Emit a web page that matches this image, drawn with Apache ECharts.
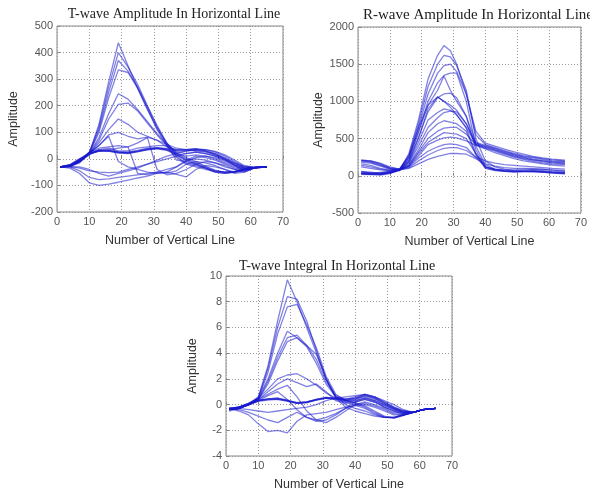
<!DOCTYPE html>
<html><head><meta charset="utf-8">
<script src="https://cdn.jsdelivr.net/npm/echarts@6/dist/echarts.min.js"></script>
<style>html,body{margin:0;padding:0;background:#fff}#c{width:590px;height:492px}</style>
</head><body><div id="c"></div>
<script>
// ---- Plot 1: T-wave amplitude ----
const X1 = [1,4,7,10,13,16,19,22,25,28,31,34,37,40,43,46,49,52,55,58,61,65];
const T1 = [
 [-30,-28,-15,20,130,290,437,350,265,190,110,50,5,-20,-30,-40,-48,-50,-48,-40,-33,-30],
 [-30,-27,-12,25,120,270,400,345,280,200,125,60,10,-15,-25,-35,-45,-50,-47,-40,-33,-30],
 [-30,-26,-10,22,110,250,370,330,270,195,120,55,15,-5,0,-5,-15,-30,-40,-40,-33,-30],
 [-30,-25,-8,20,100,230,335,325,265,185,115,60,20,10,15,10,0,-15,-30,-38,-33,-30],
 [-30,-25,-5,20,80,170,245,225,185,140,95,55,25,20,25,20,10,-5,-20,-35,-33,-30],
 [-30,-24,-5,18,70,150,205,210,180,135,90,50,30,30,35,30,20,5,-15,-30,-33,-30],
 [-30,-24,-3,18,60,110,150,130,100,85,70,45,35,35,38,35,28,15,-5,-25,-32,-30],
 [-30,-22,0,20,50,90,100,85,75,82,70,55,40,35,30,25,15,0,-15,-28,-32,-30],
 [-30,-22,0,22,50,85,-10,-30,-40,-50,-55,-50,-30,-10,5,10,5,-10,-25,-35,-32,-30],
 [-30,-25,-5,25,40,45,50,45,-55,-60,-50,-40,-30,-5,10,5,-5,-20,-35,-40,-33,-30],
 [-30,-25,-5,20,30,35,40,45,60,80,-40,-60,-55,-40,-20,-10,-15,-25,-40,-50,-35,-30],
 [-30,-28,-10,15,35,40,30,30,40,45,50,50,-5,-10,-20,-35,-50,-55,-50,-40,-33,-30],
 [-30,-28,-10,20,30,32,25,22,28,35,40,38,35,35,38,30,15,0,-20,-35,-32,-30],
 [-30,-27,-8,22,32,30,25,24,30,38,40,35,20,0,-15,-30,-45,-50,-48,-40,-33,-30],
 [-30,-28,-12,18,28,30,22,20,26,34,38,32,15,-5,-20,-35,-50,-55,-50,-42,-33,-30],
 [-30,-26,-6,24,34,33,27,25,32,40,42,38,30,30,35,35,25,10,-10,-30,-32,-30],
 [-30,-27,-8,20,30,28,24,22,28,36,40,34,22,5,-10,-28,-42,-52,-50,-42,-34,-30],
 [-30,-35,-55,-90,-100,-95,-88,-80,-72,-65,-55,-50,-58,-68,-40,-25,-30,-40,-50,-45,-35,-30],
 [-30,-30,-45,-70,-78,-75,-70,-65,-60,-55,-50,-55,-45,-20,-10,-15,-25,-40,-55,-50,-35,-30],
 [-30,-28,-35,-45,-50,-52,-50,-40,-30,-20,-10,0,10,20,25,20,10,-5,-25,-45,-35,-30],
 [-30,-30,-30,-40,-55,-65,-55,-45,-35,-20,-5,10,20,30,32,28,20,0,-25,-40,-33,-30]
];
// ---- Plot 2: R-wave amplitude ----
const X2 = [1,4,7,10,13,16,19,22,25,27,29,31,34,37,40,43,46,49,52,55,58,61,65];
const R2 = [
 [210,200,160,100,70,300,750,1300,1620,1750,1680,1500,1100,600,440,400,360,320,290,260,240,225,210],
 [30,20,10,30,80,280,700,1200,1500,1620,1600,1480,1150,500,200,120,90,70,60,55,50,45,40],
 [200,190,150,110,90,260,650,1100,1380,1480,1500,1400,1100,550,420,380,340,300,270,250,230,215,200],
 [40,30,20,40,80,240,600,1000,1250,1350,1380,1380,1000,400,150,90,70,60,60,60,50,40,30],
 [160,140,100,80,90,220,580,950,1150,1340,1150,1000,800,450,410,370,330,290,260,240,220,200,190],
 [30,25,15,35,70,200,520,860,1050,1100,1110,1050,800,350,120,80,65,55,55,60,50,35,25],
 [210,200,170,120,90,200,500,900,1060,1000,920,820,650,430,400,360,320,280,250,225,205,190,180],
 [60,50,30,40,80,180,450,750,850,900,880,820,640,300,110,75,60,50,55,60,55,45,35],
 [180,170,130,90,80,170,400,650,780,850,870,860,700,440,390,350,310,270,240,215,200,185,170],
 [20,15,20,45,80,150,350,580,700,740,720,700,600,280,100,70,60,55,60,65,60,50,40],
 [140,120,90,70,80,140,320,500,600,640,650,650,560,420,370,330,290,250,220,195,175,160,150],
 [50,40,35,50,80,130,300,450,530,580,570,560,500,300,120,85,70,65,70,75,70,60,50],
 [200,180,140,100,90,130,270,420,480,510,520,510,470,410,360,310,270,230,200,180,160,145,130],
 [30,25,40,60,80,120,240,330,390,420,430,420,380,250,120,90,80,80,85,90,85,75,60],
 [120,100,80,70,80,110,200,280,340,370,380,380,340,250,200,170,150,140,130,120,110,100,90],
 [30,30,45,60,80,100,160,220,260,280,300,300,290,230,160,130,110,100,100,95,90,80,70],
 [50,40,30,50,80,250,650,950,1060,1000,950,880,700,420,380,340,300,260,230,210,190,175,160]
];
// ---- Plot 3: T-wave integral ----
const X3 = [1,4,7,10,13,16,19,22,25,28,31,34,37,40,43,46,49,52,55,58,61,65];
const I3 = [
 [-0.3,-0.2,0,0.6,3,6.5,9.7,8,6,4,2,0.5,-0.2,-0.5,-0.7,-0.9,-1.0,-1.0,-0.8,-0.6,-0.4,-0.3],
 [-0.4,-0.2,0.1,0.5,2.8,6,8.4,8.2,6.5,4.2,2,0.6,0,-0.3,-0.5,-0.8,-1.0,-1.0,-0.8,-0.6,-0.4,-0.3],
 [-0.4,-0.2,0.1,0.5,2.5,5.5,7.6,7.8,6.2,4.4,2.2,0.8,0.3,0.3,0.5,0.3,-0.2,-0.5,-0.7,-0.6,-0.4,-0.3],
 [-0.3,-0.2,0,0.5,2,4,5.7,5.2,4.6,3.9,2,0.6,0.3,0.5,0.8,0.6,0.2,-0.2,-0.5,-0.6,-0.4,-0.3],
 [-0.5,-0.3,0,0.4,1.8,3.7,5.2,5.4,4.6,3.5,1.8,0.7,0.4,0.6,0.8,0.6,0.3,0,-0.4,-0.6,-0.4,-0.3],
 [-0.4,-0.3,0,0.4,1.6,3.4,4.9,5.2,4.5,3.2,1.6,0.6,0.3,0.4,0.7,0.5,0.1,-0.3,-0.6,-0.6,-0.4,-0.3],
 [-0.3,-0.2,0,0.5,1.2,2.0,2.3,2.4,2.0,1.5,0.9,0.5,0.2,0.3,0.5,0.3,0,-0.3,-0.5,-0.6,-0.4,-0.3],
 [-0.4,-0.3,0,0.4,1.0,1.6,2.0,1.7,1.4,1.6,1.0,0.3,0.1,0.2,0.4,0.2,-0.1,-0.4,-0.6,-0.6,-0.4,-0.3],
 [-0.3,-0.2,0.1,0.4,0.8,1.2,1.5,0.6,-0.5,-1.2,-1.4,-1.0,-0.5,0,0.2,0,-0.3,-0.6,-0.7,-0.6,-0.4,-0.3],
 [-0.4,-0.3,0,0.3,0.7,1.0,0.4,-0.4,-1.0,-1.3,-1.2,-0.8,-0.3,0,0.1,-0.1,-0.4,-0.7,-0.8,-0.6,-0.4,-0.3],
 [-0.3,-0.5,-0.8,-1.5,-2.1,-2.0,-2.2,-1.3,-0.8,-0.7,-0.6,-0.4,-0.2,-0.1,0,-0.2,-0.5,-0.8,-0.8,-0.6,-0.4,-0.3],
 [-0.3,-0.4,-0.6,-0.9,-1.2,-1.4,-1.0,-0.6,-1.0,-1.2,-1.0,-0.7,-0.3,0.2,0.4,0.2,-0.2,-0.5,-0.7,-0.6,-0.4,-0.3],
 [-0.4,-0.3,-0.4,-0.5,-0.6,-0.5,-0.4,-0.3,-0.2,0,0.3,0.5,0.6,0.7,0.8,0.6,0.2,-0.2,-0.5,-0.6,-0.4,-0.3],
 [-0.4,-0.3,0,0.3,0.4,0.45,0.3,0.1,0.15,0.35,0.5,0.45,0.3,0.1,-0.2,-0.6,-0.95,-1.0,-0.8,-0.6,-0.4,-0.3],
 [-0.4,-0.2,0.05,0.35,0.45,0.5,0.35,0.15,0.2,0.4,0.55,0.5,0.35,0.15,-0.1,-0.5,-0.9,-1.05,-0.85,-0.6,-0.4,-0.3],
 [-0.3,-0.25,0,0.3,0.4,0.4,0.25,0.1,0.15,0.4,0.55,0.5,0.45,0.5,0.7,0.5,0.1,-0.3,-0.6,-0.6,-0.4,-0.3],
 [-0.35,-0.3,0,0.25,0.35,0.4,0.3,0.1,0.2,0.35,0.5,0.45,0.4,0.45,0.6,0.4,0,-0.4,-0.6,-0.6,-0.4,-0.3],
 [-0.4,-0.3,-0.05,0.3,0.45,0.5,0.3,0.15,0.2,0.4,0.5,0.4,0.2,-0.05,-0.3,-0.7,-1.0,-1.05,-0.8,-0.6,-0.4,-0.3]
];
const TITLES = ['T-wave Amplitude In Horizontal Line','R-wave Amplitude In Horizontal Line','T-wave Integral In Horizontal Line'];
const XNAME = 'Number of Vertical Line', YNAME = 'Amplitude';
const YRANGES = [[-200,500,100],[-500,2000,500],[-4,10,2]];

const chart = echarts.init(document.getElementById('c'), null, {renderer:'canvas'});
const grids = [
 {left:57, top:26, width:226, height:186},
 {left:358, top:27, width:226, height:186},
 {left:226, top:276, width:226, height:186}
];
const lineColor = 'rgba(25,25,205,0.55)';
const xAxes = [], yAxes = [], series = [];
grids.forEach((g,i)=>{
  xAxes.push({gridIndex:i, type:'value', min:0, max:70, interval:10,
    name:XNAME, nameLocation:'middle', nameGap:22,
    nameTextStyle:{fontFamily:'Liberation Sans', fontSize:12.5, color:'#333'},
    axisLine:{show:false}, axisTick:{inside:true, length:3, lineStyle:{color:'#888'}},
    axisLabel:{fontFamily:'Liberation Sans', fontSize:11, color:'#555', margin:4, formatter:v=>String(v)},
    splitLine:{show:true, lineStyle:{type:[1,2], color:'#999', width:1}}});
  yAxes.push({gridIndex:i, type:'value', min:YRANGES[i][0], max:YRANGES[i][1], interval:YRANGES[i][2],
    name:YNAME, nameLocation:'middle', nameGap:[37,33,27][i],
    nameTextStyle:{fontFamily:'Liberation Sans', fontSize:12.5, color:'#333'},
    axisLine:{show:false}, axisTick:{inside:true, length:3, lineStyle:{color:'#888'}},
    axisLabel:{fontFamily:'Liberation Sans', fontSize:11, color:'#555', margin:4, formatter:v=>String(v)},
    splitLine:{show:true, lineStyle:{type:[1,2], color:'#999', width:1}}});
});
function addSeries(xs, sets, gi){
  sets.forEach(ys=>{
    series.push({type:'line', xAxisIndex:gi, yAxisIndex:gi, showSymbol:false, silent:true,
      data: xs.map((x,k)=>[x, ys[k]]),
      lineStyle:{color:lineColor, width:1.3}});
  });
}
addSeries(X1, T1, 0);
addSeries(X2, R2, 1);
addSeries(X3, I3, 2);
const titleStyle = {fontFamily:'Liberation Serif', fontSize:14, fontWeight:'normal', fill:'#222', textAlign:'center', textVerticalAlign:'middle'};
chart.setOption({
  animation:false,
  grid: grids.map(g=>Object.assign({show:true, borderColor:'#888', borderWidth:1, backgroundColor:'#fff'}, g)),
  xAxis:xAxes, yAxis:yAxes, series:series,
  graphic:[
    {type:'text', x:174, y:14, style:Object.assign({text:TITLES[0]}, titleStyle)},
    {type:'text', x:478, y:15, style:Object.assign({text:TITLES[1]}, titleStyle, {fontSize:15})},
    {type:'text', x:337, y:266, style:Object.assign({text:TITLES[2]}, titleStyle)}
  ]
});
</script></body></html>
